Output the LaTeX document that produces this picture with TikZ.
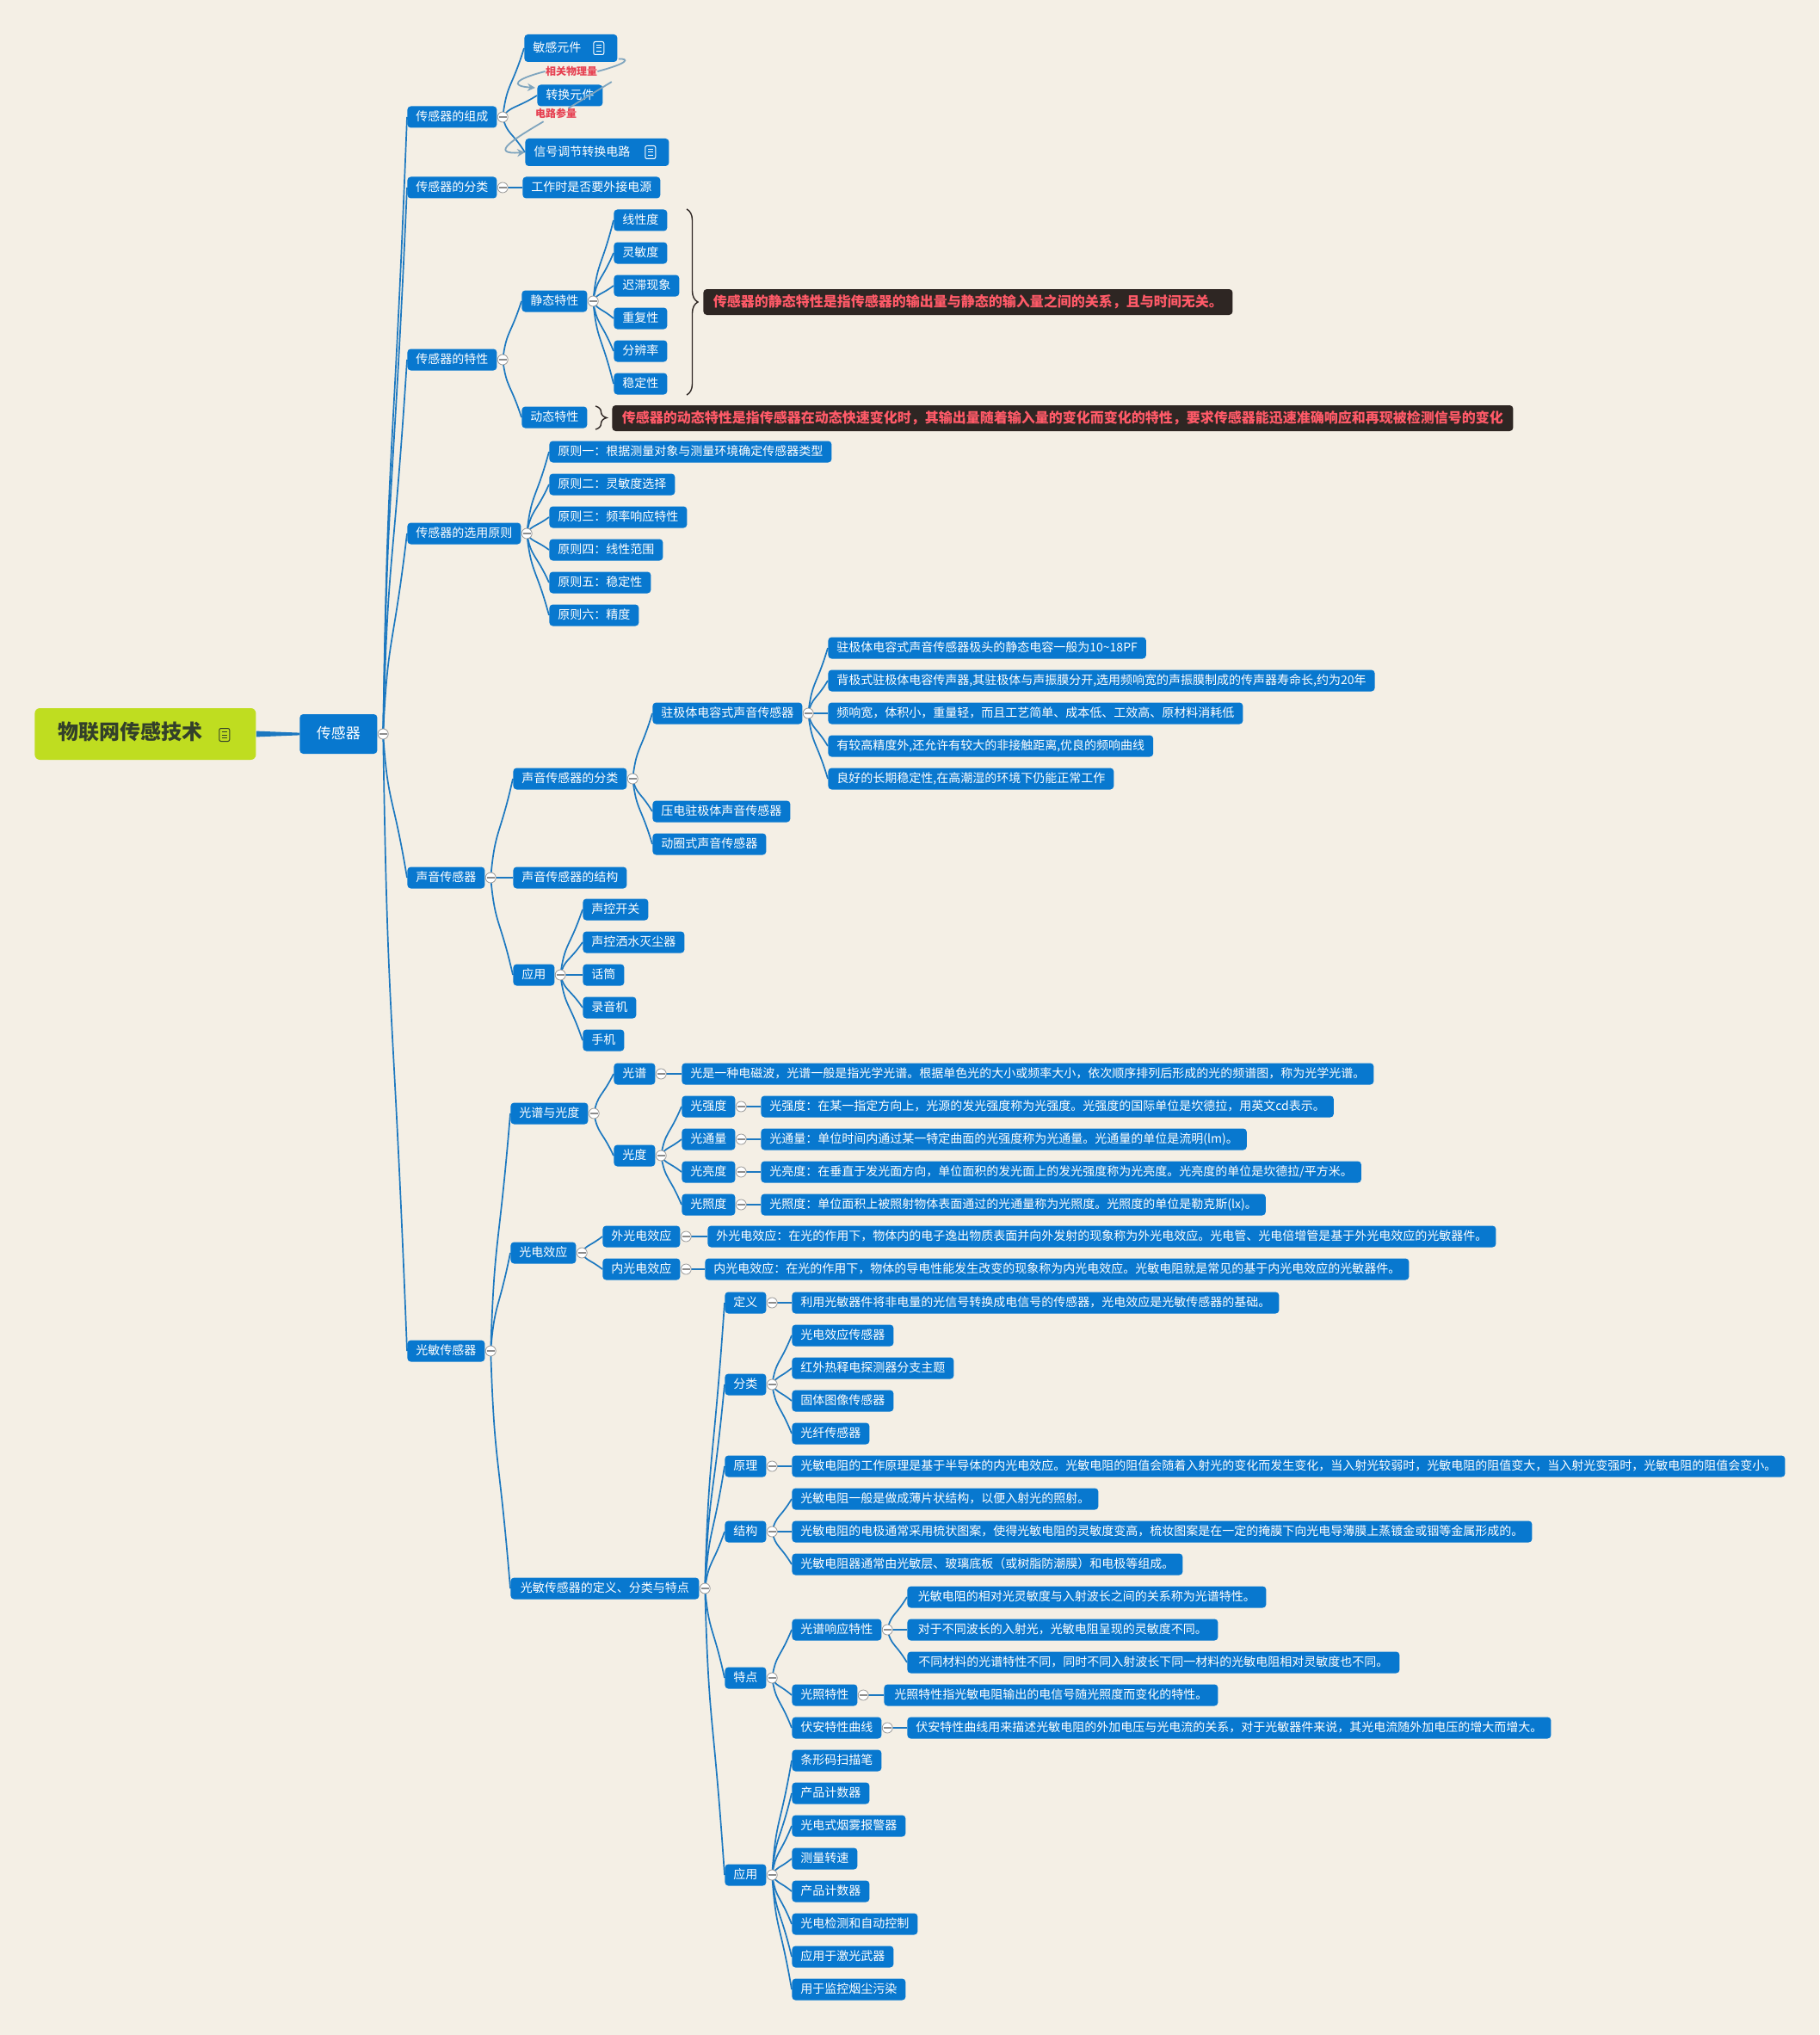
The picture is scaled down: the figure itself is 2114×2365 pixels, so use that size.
\documentclass[tikz,border=0pt]{standalone}
\usepackage{fontspec}
\setmainfont{Noto Sans CJK SC}
\usepackage{tikz}
\usetikzlibrary{
  arrows.meta,
  calc,
  decorations.pathreplacing,
  backgrounds
}
\definecolor{paper}{HTML}{F4EFE5}
\definecolor{topicblue}{HTML}{0878CF}
\definecolor{linkblue}{HTML}{1C78C0}
\definecolor{relgray}{HTML}{7FA5BE}
\definecolor{rootgreen}{HTML}{BFDD20}
\definecolor{rootink}{HTML}{33402A}
\definecolor{noteink}{HTML}{2E2623}
\definecolor{notered}{HTML}{FF5A68}
\definecolor{relred}{HTML}{E64152}
\tikzset{
  noteicon/.pic={
    \draw[line width=.5pt, rounded corners=1pt] (-6,-7.5) rectangle (6,7.5);
    \draw[line width=.5pt] (-3,-3.5) -- (3,-3.5) (-3,0) -- (3,0) (-3,3.5) -- (3,3.5);
  }
}

\begin{document}
\begin{tikzpicture}[
  x=.5pt, y=-.5pt,
  topic/.style={fill=topicblue, rounded corners=2pt, anchor=west, text=white, minimum height=12.5pt, inner xsep=5pt, inner ysep=0pt, text height=6pt, text depth=1.6pt, font=\fontsize{7}{8}\selectfont},
  icontopic/.style={topic, minimum height=16pt, align=left, text width=#1},
  rootnode/.style={fill=rootgreen, rounded corners=3pt, anchor=west, text=rootink, minimum height=30pt, inner xsep=13.5pt, inner ysep=0pt, text width=101.5pt, align=left, text height=10pt, text depth=3.5pt, font=\fontsize{12}{14}\selectfont\bfseries},
  maintopic/.style={topic, minimum width=45pt, minimum height=23pt, inner xsep=0pt, text height=7.4pt, text depth=2pt, font=\fontsize{8.5}{10}\selectfont},
  notebox/.style={fill=noteink, rounded corners=2pt, anchor=west, text=notered, minimum height=15pt, inner xsep=1pt, inner ysep=0pt, text height=6.8pt, text depth=1.8pt, font=\fontsize{8}{9}\selectfont\bfseries},
  rellabel/.style={text=relred, inner sep=0pt, font=\fontsize{6}{7}\selectfont\bfseries},
  fold/.style={circle, fill=white, draw=black!40, line width=.4pt, minimum size=6pt, inner sep=0pt, anchor=west,
    path picture={\draw[black!45, line width=1.1pt] ([xshift=.8pt]path picture bounding box.west) -- ([xshift=-.8pt]path picture bounding box.east);}},
  link/.style={linkblue, line width=.85pt},
  stem/.style={linkblue, line width=1.3pt},
  rel/.style={relgray, line width=.9pt},
  relarrow/.style={rel, -{Stealth[length=4.5pt, width=4.5pt]}},
  bracket/.style={noteink, line width=.7pt, decorate, decoration={brace, amplitude=6.5pt, aspect=.5}}
]
  \useasboundingbox (0,0) rectangle (2114,2365);

  % Root
  \node[rootnode] (root) at (40,853) {物联网传感技术};
  \node[maintopic] (sensor) at (348,853) {传感器};
  \pic[color=rootink] at ([shift={(-37,1)}]root.east) {noteicon};

  % Composition
  \node[topic] (comp) at (473,136) {传感器的组成};
  \node[icontopic=44pt] (sense) at (609,56) {敏感元件};
  \node[topic] (conv) at (624,111) {转换元件};
  \node[icontopic=73.5pt] (signal) at (610,177) {信号调节转换电路};
  \pic[color=white] at ([shift={(-22,0)}]sense.east) {noteicon};
  \pic[color=white] at ([shift={(-22,0)}]signal.east) {noteicon};
  \node[rellabel] (physlabel) at (664,83) {相关物理量};
  \node[rellabel] (circlabel) at (646,132) {电路参量};

  % Classes
  \node[topic] (class) at (473,218) {传感器的分类};
  \node[topic] (power) at (607,218) {工作时是否要外接电源};

  % Characteristics
  \node[topic] (chars) at (473,418) {传感器的特性};
  \node[topic] (static) at (606,350) {静态特性};
  \node[topic] (dynamic) at (606,485) {动态特性};
  \node[topic] (linear) at (713,256) {线性度};
  \node[topic] (sensit) at (713,294) {灵敏度};
  \node[topic] (hyst) at (713,332) {迟滞现象};
  \node[topic] (repeat) at (713,370) {重复性};
  \node[topic] (resol) at (713,408) {分辨率};
  \node[topic] (stable) at (713,446) {稳定性};
  \node[notebox, minimum width=307.5pt] (staticnote) at (817,351) {传感器的静态特性是指传感器的输出量与静态的输入量之间的关系，且与时间无关。};
  \node[notebox, minimum width=523.5pt] (dynamicnote) at (711,486) {传感器的动态特性是指传感器在动态快速变化时，其输出量随着输入量的变化而变化的特性，要求传感器能迅速准确响应和再现被检测信号的变化};
  \coordinate (statictop) at (798,243);
  \coordinate (staticend) at (798,459);
  \coordinate (dynamictop) at (692,472);
  \coordinate (dynamicend) at (692,499);

  % Selection rules
  \node[topic] (select) at (473,620) {传感器的选用原则};
  \node[topic] (rule1) at (638,525) {原则一：根据测量对象与测量环境确定传感器类型};
  \node[topic] (rule2) at (638,563) {原则二：灵敏度选择};
  \node[topic] (rule3) at (638,601) {原则三：频率响应特性};
  \node[topic] (rule4) at (638,639) {原则四：线性范围};
  \node[topic] (rule5) at (638,677) {原则五：稳定性};
  \node[topic] (rule6) at (638,715) {原则六：精度};

  % Sound sensors
  \node[topic] (sound) at (473,1020) {声音传感器};
  \node[topic] (soundcls) at (596,905) {声音传感器的分类};
  \node[topic] (soundstruct) at (596,1020) {声音传感器的结构};
  \node[topic] (soundapp) at (596,1133) {应用};
  \node[topic] (electret) at (758,829) {驻极体电容式声音传感器};
  \node[topic] (piezo) at (758,943) {压电驻极体声音传感器};
  \node[topic] (coil) at (758,981) {动圈式声音传感器};
  \node[topic] (el1) at (962,753) {驻极体电容式声音传感器极头的静态电容一般为10\textasciitilde 18PF};
  \node[topic] (el2) at (962,791) {背极式驻极体电容传声器,其驻极体与声振膜分开,选用频响宽的声振膜制成的传声器寿命长,约为20年};
  \node[topic] (el3) at (962,829) {频响宽，体积小，重量轻，而且工艺简单、成本低、工效高、原材料消耗低};
  \node[topic] (el4) at (962,867) {有较高精度外,还允许有较大的非接触距离,优良的频响曲线};
  \node[topic] (el5) at (962,905) {良好的长期稳定性,在高潮湿的环境下仍能正常工作};
  \node[topic] (switch) at (677,1057) {声控开关};
  \node[topic] (spray) at (677,1095) {声控洒水灭尘器};
  \node[topic] (mic) at (677,1133) {话筒};
  \node[topic] (recorder) at (677,1171) {录音机};
  \node[topic] (phone) at (677,1209) {手机};

  % Photo sensors
  \node[topic] (photo) at (473,1570) {光敏传感器};
  \node[topic] (specl) at (593,1294) {光谱与光度};
  \node[topic] (effect) at (593,1456) {光电效应};
  \node[topic, minimum width=109.5pt] (defcls) at (593,1846) {光敏传感器的定义、分类与特点};
  \node[topic] (spec) at (713,1248) {光谱};
  \node[topic] (lumin) at (713,1343) {光度};
  \node[topic] (specdesc) at (792,1248) {光是一种电磁波，光谱一般是指光学光谱。根据单色光的大小或频率大小，依次顺序排列后形成的光的频谱图，称为光学光谱。};
  \node[topic] (intens) at (792,1286) {光强度};
  \node[topic] (flux) at (792,1324) {光通量};
  \node[topic] (bright) at (792,1362) {光亮度};
  \node[topic] (illum) at (792,1400) {光照度};
  \node[topic] (intensdesc) at (884,1286) {光强度：在某一指定方向上，光源的发光强度称为光强度。光强度的国际单位是坎德拉，用英文cd表示。};
  \node[topic] (fluxdesc) at (884,1324) {光通量：单位时间内通过某一特定曲面的光强度称为光通量。光通量的单位是流明(lm)。};
  \node[topic] (brightdesc) at (884,1362) {光亮度：在垂直于发光面方向，单位面积的发光面上的发光强度称为光亮度。光亮度的单位是坎德拉/平方米。};
  \node[topic] (illumdesc) at (884,1400) {光照度：单位面积上被照射物体表面通过的光通量称为光照度。光照度的单位是勒克斯(lx)。};
  \node[topic] (outer) at (700,1437) {外光电效应};
  \node[topic] (inner) at (700,1475) {内光电效应};
  \node[topic] (outerdesc) at (822,1437) {外光电效应：在光的作用下，物体内的电子逸出物质表面并向外发射的现象称为外光电效应。光电管、光电倍增管是基于外光电效应的光敏器件。};
  \node[topic] (innerdesc) at (819,1475) {内光电效应：在光的作用下，物体的导电性能发生改变的现象称为内光电效应。光敏电阻就是常见的基于内光电效应的光敏器件。};

  % Definition, classes and features
  \node[topic] (def) at (842,1514) {定义};
  \node[topic] (cls) at (842,1609) {分类};
  \node[topic] (prin) at (842,1704) {原理};
  \node[topic] (struct) at (842,1780) {结构};
  \node[topic] (feat) at (842,1950) {特点};
  \node[topic] (app) at (842,2179) {应用};
  \node[topic] (defdesc) at (920,1514) {利用光敏器件将非电量的光信号转换成电信号的传感器，光电效应是光敏传感器的基础。};
  \node[topic] (cls1) at (920,1552) {光电效应传感器};
  \node[topic] (cls2) at (920,1590) {红外热释电探测器分支主题};
  \node[topic] (cls3) at (920,1628) {固体图像传感器};
  \node[topic] (cls4) at (920,1666) {光纤传感器};
  \node[topic] (prindesc) at (920,1704) {光敏电阻的工作原理是基于半导体的内光电效应。光敏电阻的阻值会随着入射光的变化而发生变化，当入射光较弱时，光敏电阻的阻值变大，当入射光变强时，光敏电阻的阻值会变小。};
  \node[topic] (st1) at (920,1742) {光敏电阻一般是做成薄片状结构，以便入射光的照射。};
  \node[topic] (st2) at (920,1780) {光敏电阻的电极通常采用梳状图案，使得光敏电阻的灵敏度变高，梳妆图案是在一定的掩膜下向光电导薄膜上蒸镀金或铟等金属形成的。};
  \node[topic] (st3) at (920,1818) {光敏电阻器通常由光敏层、玻璃底板（或树脂防潮膜）和电极等组成。};
  \node[topic] (resp) at (920,1894) {光谱响应特性};
  \node[topic] (light) at (920,1970) {光照特性};
  \node[topic] (va) at (920,2008) {伏安特性曲线};
  \node[topic, minimum width=208.5pt] (resp1) at (1054,1856) {光敏电阻的相对光灵敏度与入射波长之间的关系称为光谱特性。};
  \node[topic, minimum width=180.5pt] (resp2) at (1054,1894) {对于不同波长的入射光，光敏电阻呈现的灵敏度不同。};
  \node[topic, minimum width=286pt] (resp3) at (1054,1932) {不同材料的光谱特性不同，同时不同入射波长下同一材料的光敏电阻相对灵敏度也不同。};
  \node[topic, minimum width=194pt] (lightdesc) at (1027,1970) {光照特性指光敏电阻输出的电信号随光照度而变化的特性。};
  \node[topic, minimum width=374pt] (vadesc) at (1054,2008) {伏安特性曲线用来描述光敏电阻的外加电压与光电流的关系，对于光敏器件来说，其光电流随外加电压的增大而增大。};
  \node[topic] (app1) at (920,2046) {条形码扫描笔};
  \node[topic] (app2) at (920,2084) {产品计数器};
  \node[topic] (app3) at (920,2122) {光电式烟雾报警器};
  \node[topic] (app4) at (920,2160) {测量转速};
  \node[topic] (app5) at (920,2198) {产品计数器};
  \node[topic] (app6) at (920,2236) {光电检测和自动控制};
  \node[topic] (app7) at (920,2274) {应用于激光武器};
  \node[topic] (app8) at (920,2312) {用于监控烟尘污染};

  % Fold marks
  \foreach \parent in {sensor,comp,class,chars,static,select,sound,soundcls,electret,soundapp,photo,specl,spec,lumin,intens,flux,bright,illum,effect,outer,inner,defcls,def,cls,prin,struct,feat,resp,light,va,app}
    \node[fold] (\parent-fold) at (\parent.east) {};

  % Braces
  \draw[bracket] (statictop) -- (staticend);
  \draw[bracket] (dynamictop) -- (dynamicend);

  % Relations
  \draw[rel] ([shift={(1,-4)}]sense.south east) .. controls (731,68) and (732,73) .. (physlabel.east);
  \draw[relarrow] (physlabel.west) .. controls (598,92) and (592,100) .. ([shift={(-2,-9)}]conv.west);
  \draw[rel] ([shift={(10,-3)}]conv.north east) -- ([shift={(-10,0)}]circlabel.north east);
  \draw[relarrow] ([shift={(10,3)}]circlabel.south west) .. controls (600,160) and (566,180) .. (signal.west);

  \begin{scope}[on background layer]
    \fill[paper] (0,0) rectangle (2114,2365);
    \fill[linkblue] ([yshift=-1.7pt]root.east) -- ([yshift=-.7pt]sensor.west) -- ([yshift=.7pt]sensor.west) -- ([yshift=1.7pt]root.east) -- cycle;
    \foreach \from/\to in {sensor/comp,sensor/class,sensor/chars,sensor/select,sensor/sound,sensor/photo,
      comp/sense,comp/conv,comp/signal,chars/static,chars/dynamic,
      static/linear,static/sensit,static/hyst,static/repeat,static/resol,static/stable,
      select/rule1,select/rule2,select/rule3,select/rule4,select/rule5,select/rule6,
      sound/soundcls,sound/soundapp,soundcls/electret,soundcls/piezo,soundcls/coil,
      electret/el1,electret/el2,electret/el4,electret/el5,
      soundapp/switch,soundapp/spray,soundapp/recorder,soundapp/phone,
      photo/specl,photo/effect,photo/defcls,specl/spec,specl/lumin,
      lumin/intens,lumin/flux,lumin/bright,lumin/illum,effect/outer,effect/inner,
      defcls/def,defcls/cls,defcls/prin,defcls/struct,defcls/feat,defcls/app,
      cls/cls1,cls/cls2,cls/cls3,cls/cls4,struct/st1,struct/st3,
      feat/resp,feat/light,feat/va,resp/resp1,resp/resp3,
      app/app1,app/app2,app/app3,app/app4,app/app5,app/app6,app/app7,app/app8}
      \draw[link] (\from-fold.center) .. controls ($(\from-fold.center)!.2!(\to.west)+.3*(\from-fold.center |- \to.west)-.3*(\from-fold.center)$) and ($(\from-fold.center)!.4!(\to.west)$ |- \to.west) .. (\to.west);
    \foreach \from/\to in {class/power,sound/soundstruct,electret/el3,soundapp/mic,spec/specdesc,
      intens/intensdesc,flux/fluxdesc,bright/brightdesc,illum/illumdesc,outer/outerdesc,inner/innerdesc,
      def/defdesc,prin/prindesc,struct/st2,resp/resp2,light/lightdesc,va/vadesc}
      \draw[stem] (\from-fold.center) -- (\to.west);
  \end{scope}
\end{tikzpicture}
\end{document}
